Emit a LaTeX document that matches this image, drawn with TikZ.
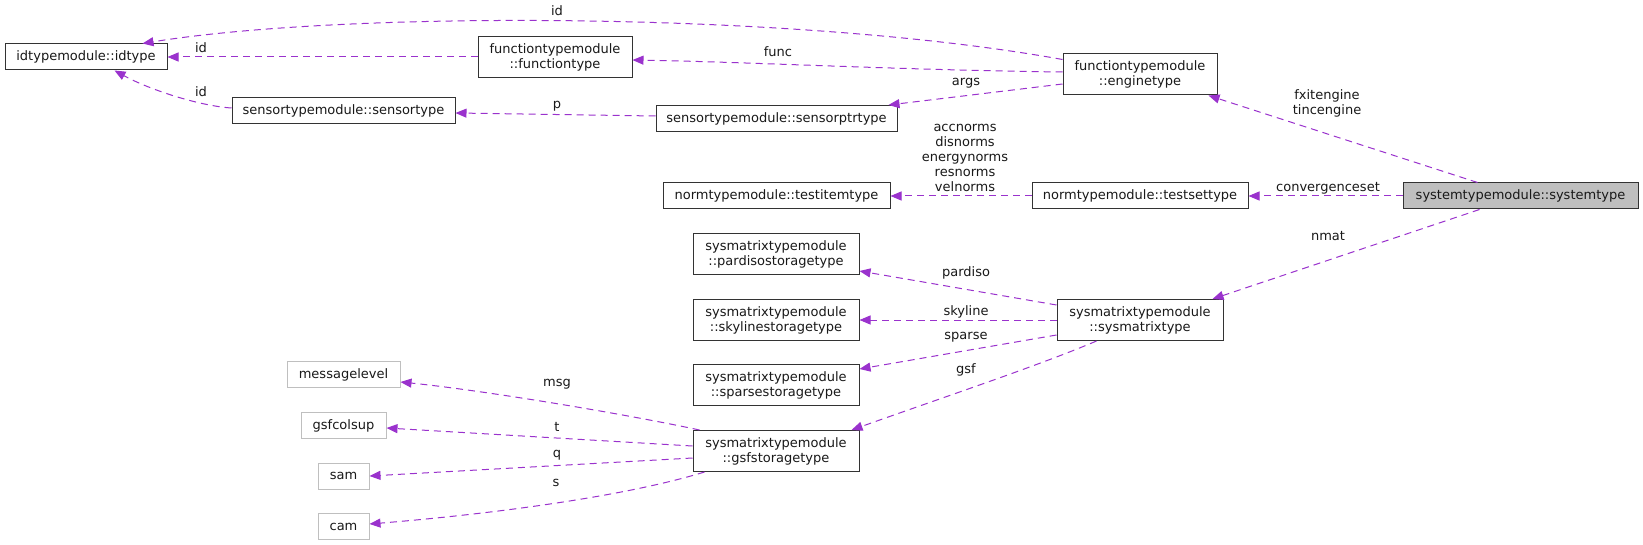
\documentclass[tikz,border=0pt]{standalone}
\usepackage{fontspec}
\setmainfont{DejaVu Sans}
\usetikzlibrary{arrows.meta,calc}
\definecolor{edgecol}{HTML}{9A32CD}
\definecolor{boxcol}{HTML}{333333}
\definecolor{greycol}{HTML}{BFBFBF}
\tikzset{
  every node/.style={font=\fontsize{13}{15}\selectfont, text=black!90},
  box/.style={draw=boxcol, line width=1pt, fill=white, inner sep=0pt, minimum height=26pt, align=center},
  boxtwo/.style={box, minimum height=41pt},
  greybox/.style={box, draw=greycol},
  mainbox/.style={box, fill=greycol},
  dep/.style={draw=edgecol, line width=1pt, dash pattern=on 7pt off 5pt, -{Triangle[length=11pt,width=9pt]}},
  lbl/.style={inner sep=0pt, align=center}
}
\begin{document}
\begin{tikzpicture}[x=1pt,y=-1pt]
\path[use as bounding box, fill=white] (0,0) rectangle (1643,545);

% nodes
\node[box, minimum width=162pt] (idtype) at (86,57) {idtypemodule::idtype};
\node[boxtwo, minimum width=154pt] (func) at (555,57) {functiontypemodule\\::functiontype};
\node[box, minimum width=223pt] (sensor) at (343.5,110.5) {sensortypemodule::sensortype};
\node[boxtwo, minimum width=154pt] (engine) at (1140,74.5) {functiontypemodule\\::enginetype};
\node[box, minimum width=241pt] (sptr) at (776.5,118.5) {sensortypemodule::sensorptrtype};
\node[box, minimum width=227pt] (testitem) at (776.5,196) {normtypemodule::testitemtype};
\node[box, minimum width=216pt] (testset) at (1140,196) {normtypemodule::testsettype};
\node[mainbox, minimum width=235pt] (sys) at (1520.5,196) {systemtypemodule::systemtype};
\node[boxtwo, minimum width=166pt] (pardiso) at (776,254.5) {sysmatrixtypemodule\\::pardisostoragetype};
\node[boxtwo, minimum width=166pt] (skyline) at (776,320) {sysmatrixtypemodule\\::skylinestoragetype};
\node[boxtwo, minimum width=166pt] (sparse) at (776,385) {sysmatrixtypemodule\\::sparsestoragetype};
\node[boxtwo, minimum width=166pt] (gsf) at (776,451) {sysmatrixtypemodule\\::gsfstoragetype};
\node[boxtwo, minimum width=166pt] (sysmat) at (1140,320) {sysmatrixtypemodule\\::sysmatrixtype};
\node[greybox, minimum width=113pt] (msg) at (343.5,374.5) {messagelevel};
\node[greybox, minimum width=85pt] (colsup) at (343.5,425.5) {gsfcolsup};
\node[greybox, minimum width=51pt] (sam) at (343.5,476) {sam};
\node[greybox, minimum width=51pt] (cam) at (343.5,526.5) {cam};

% edges
\draw[dep] ($(engine.north west)+(0,6)$) .. controls (800,12) and (350,10) .. ($(idtype.north west)+(138,0)$);
\draw[dep] (func.west) -- (idtype.east);
\draw[dep] ($(sensor.west)+(0,-2.5)$) .. controls (200,106) and (150,90) .. ($(idtype.south west)+(110,0)$);
\draw[dep] ($(engine.west)+(0,-2.5)$) .. controls (900,70) and (750,62) .. ($(func.east)+(0,3)$);
\draw[dep] ($(engine.west)+(0,9.5)$) -- ($(sptr.north east)+(-9,0)$);
\draw[dep] ($(sptr.west)+(0,-2.5)$) -- ($(sensor.east)+(0,2.5)$);
\draw[dep] ($(sys.north west)+(75,0)$) -- ($(engine.south east)+(-9,0)$);
\draw[dep] (testset.west) -- (testitem.east);
\draw[dep] (sys.west) -- (testset.east);
\draw[dep] ($(sys.south west)+(77,0)$) -- ($(sysmat.north east)+(-11,0)$);
\draw[dep] ($(sysmat.west)+(0,-15)$) -- ($(pardiso.east)+(0,16.5)$);
\draw[dep] (sysmat.west) -- (skyline.east);
\draw[dep] ($(sysmat.west)+(0,15)$) -- ($(sparse.east)+(0,-16)$);
\draw[dep] ($(sysmat.south west)+(40,0)$) .. controls (1040,365) and (950,395) .. ($(gsf.north east)+(-8,0)$);
\draw[dep] ($(gsf.north west)+(7,0)$) .. controls (620,413) and (480,390) .. ($(msg.east)+(0,7.5)$);
\draw[dep] ($(gsf.west)+(0,-5)$) -- ($(colsup.east)+(0,2.5)$);
\draw[dep] ($(gsf.west)+(0,7)$) -- (sam.east);
\draw[dep] ($(gsf.south west)+(12,0)$) .. controls (620,498) and (480,515) .. ($(cam.east)+(0,-2.5)$);

% labels
\node[lbl] (l1) at (557,11) {id};
\node[lbl] (l2) at (201,48) {id};
\node[lbl] (l3) at (201,92) {id};
\node[lbl] (l4) at (778,52) {func};
\node[lbl] (l5) at (966,83) {args};
\node[lbl] (l6) at (557,106) {p};
\node[lbl] (l7) at (1327,103) {fxitengine\\tincengine};
\node[lbl] (l8) at (965,158) {accnorms\\disnorms\\energynorms\\resnorms\\velnorms};
\node[lbl] (l9) at (1328,188) {convergenceset};
\node[lbl] (l10) at (1328,236) {nmat};
\node[lbl] (l11) at (966,273) {pardiso};
\node[lbl] (l12) at (966,312) {skyline};
\node[lbl] (l13) at (966,337) {sparse};
\node[lbl] (l14) at (966,370) {gsf};
\node[lbl] (l15) at (557,384) {msg};
\node[lbl] (l16) at (557,427) {t};
\node[lbl] (l17) at (557,455) {q};
\node[lbl] (l18) at (556,483) {s};
\end{tikzpicture}
\end{document}
